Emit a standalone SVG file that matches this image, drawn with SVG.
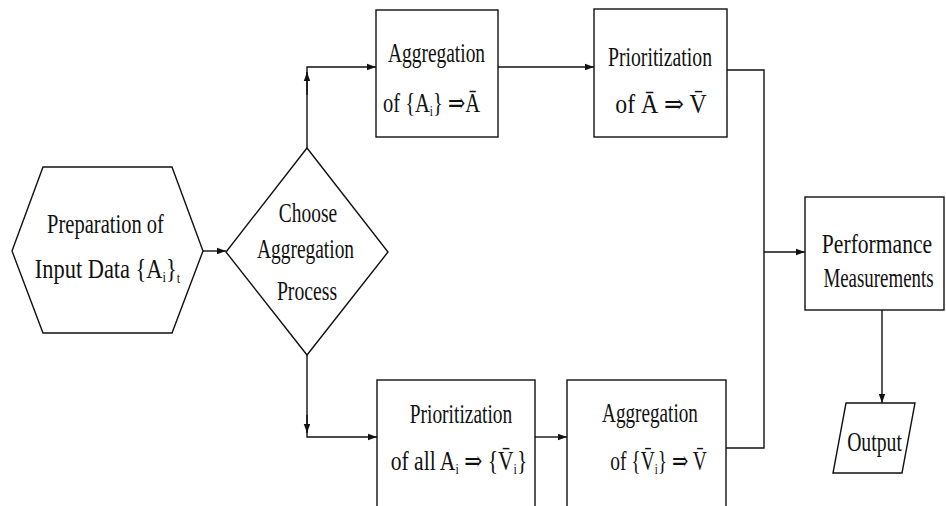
<svg xmlns="http://www.w3.org/2000/svg" width="946" height="506" viewBox="0 0 946 506">
<style>
.s{fill:#fff;stroke:#111;stroke-width:1.4}
.c{fill:none;stroke:#111;stroke-width:1.4}
text{font-family:"Liberation Serif","DejaVu Serif",serif;font-size:27px;fill:#111;text-anchor:middle}
.sub{font-size:15px}
</style>
<defs>
<marker id="ah" markerWidth="10" markerHeight="8" refX="9" refY="4" orient="auto" markerUnits="userSpaceOnUse">
<path d="M0,0.8 L9,4 L0,7.2 Z" fill="#111"/>
</marker>
</defs>
<rect width="946" height="506" fill="#fff"/>
<g id="connectors">
<line class="c" x1="203" y1="251" x2="226" y2="251" marker-end="url(#ah)"/>
<path class="c" d="M307,148 V67 H376" marker-end="url(#ah)"/>
<line class="c" x1="307" y1="95" x2="307" y2="72" marker-end="url(#ah)"/>
<path class="c" d="M307,355 V437 H377" marker-end="url(#ah)"/>
<line class="c" x1="307" y1="415" x2="307" y2="433" marker-end="url(#ah)"/>
<line class="c" x1="498" y1="67" x2="594" y2="67" marker-end="url(#ah)"/>
<path class="c" d="M727,70 H764 V448 H726"/>
<line class="c" x1="764" y1="252" x2="805" y2="252" marker-end="url(#ah)"/>
<line class="c" x1="535" y1="437" x2="567" y2="437" marker-end="url(#ah)"/>
<line class="c" x1="882" y1="310" x2="882" y2="403" marker-end="url(#ah)"/>
</g>
<g id="prep">
<polygon class="s" points="43,167 172,167 203,251 172,333 43,333 12,251"/>
<text transform="translate(105.5,233) scale(0.76,1)">Preparation of</text>
<text transform="translate(107.5,278) scale(0.83,1)">Input Data {A<tspan class="sub" dy="4">i</tspan><tspan dy="-4">}</tspan><tspan class="sub" dy="5">t</tspan></text>
</g>
<g id="choose">
<polygon class="s" points="307,148 388,252 307,355 226,252"/>
<text transform="translate(308,222) scale(0.72,1)">Choose</text>
<text transform="translate(305.5,258) scale(0.72,1)">Aggregation</text>
<text transform="translate(307,300) scale(0.73,1)">Process</text>
</g>
<g id="agg1">
<rect class="s" x="376" y="10" width="122" height="127"/>
<text transform="translate(436.5,62) scale(0.72,1)">Aggregation</text>
<text transform="translate(431.5,112) scale(0.76,1)">of {A<tspan class="sub" dy="4">i</tspan><tspan dy="-4">} ⇒Ā</tspan></text>
</g>
<g id="prio1">
<rect class="s" x="594" y="9" width="133" height="128"/>
<text transform="translate(660,66) scale(0.73,1)">Prioritization</text>
<text transform="translate(661,113) scale(0.88,1)">of Ā ⇒ V̄</text>
</g>
<g id="prio2">
<rect class="s" x="377" y="380" width="158" height="140"/>
<text transform="translate(461,423) scale(0.72,1)">Prioritization</text>
<text transform="translate(459,470) scale(0.8,1)">of all A<tspan class="sub" dy="4">i</tspan><tspan dy="-4"> ⇒ {V̄</tspan><tspan class="sub" dy="4">i</tspan><tspan dy="-4">}</tspan></text>
</g>
<g id="agg2">
<rect class="s" x="567" y="380" width="159" height="140"/>
<text transform="translate(650,422) scale(0.71,1)">Aggregation</text>
<text transform="translate(658.5,470) scale(0.72,1)">of {V̄<tspan class="sub" dy="4">i</tspan><tspan dy="-4">} ⇒ V̄</tspan></text>
</g>
<g id="perf">
<rect class="s" x="805" y="197" width="139" height="113"/>
<text transform="translate(877,253) scale(0.8,1)">Performance</text>
<text transform="translate(878.5,287) scale(0.7,1)">Measurements</text>
</g>
<g id="output">
<polygon class="s" points="846,403 915,403 902,473 833,473"/>
<text transform="translate(874.5,451) scale(0.73,1)">Output</text>
</g>
</svg>
